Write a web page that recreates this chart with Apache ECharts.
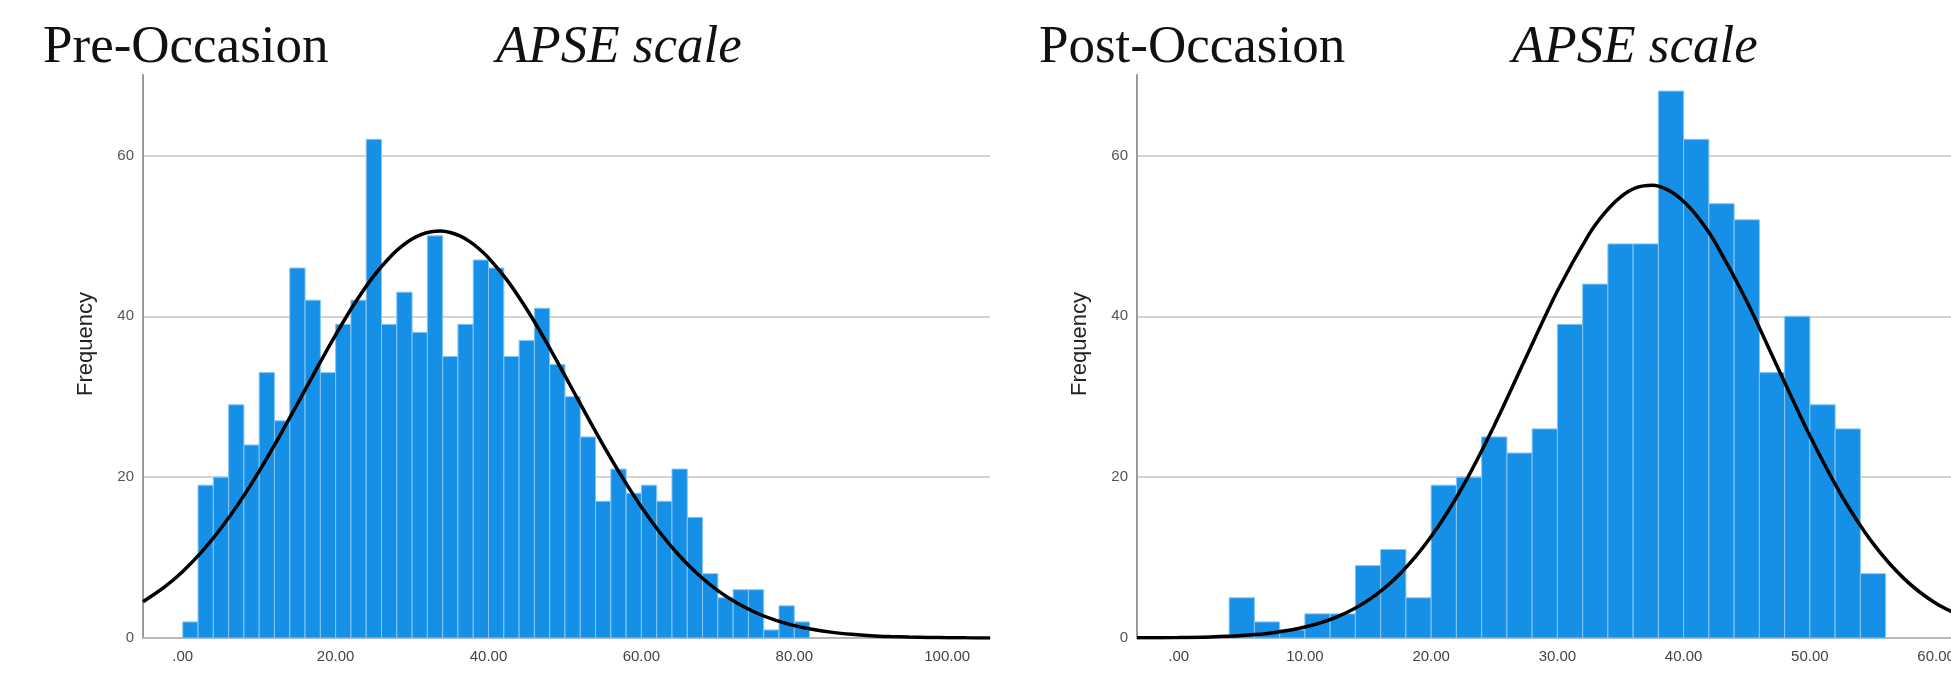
<!DOCTYPE html>
<html><head><meta charset="utf-8">
<script src="https://cdn.jsdelivr.net/npm/echarts@6/dist/echarts.min.js"></script>
<style>html,body{margin:0;padding:0;background:#fff;overflow:hidden;width:1951px;height:673px}#c{width:1980px;height:673px}</style>
</head><body><div id="c"></div>
<script>
// ---- data ----
const binWidth = 2;
const preBinStart = 0;
const preCounts = [2, 19, 20, 29, 24, 33, 27, 46, 42, 33,
                   39, 42, 62, 39, 43, 38, 50, 35, 39, 47,
                   46, 35, 37, 41, 34, 30, 25, 17, 21, 18,
                   19, 17, 21, 15, 8, 5, 6, 6, 1, 4, 2];
const postBinStart = 4;
const postCounts = [5, 2, 1, 3, 3, 9, 11, 5, 19, 20,
                    25, 23, 26, 39, 44, 49, 49, 68, 62, 54,
                    52, 33, 40, 29, 26, 8];
// fitted normal curves
const preCurveX = [-5.2, -2.5, 0, 2.5, 5, 7.5, 10, 12.5, 15, 17.5, 20, 22.5, 25, 27.5, 28.75, 30, 31.25, 32.5, 33.75, 35,
                   36.25, 37.5, 38.75, 40, 42.5, 45, 47.5, 50, 52.5, 55, 57.5, 60, 62.5, 65, 67.5, 70, 72.5, 75, 77.5, 80,
                   82.5, 85, 87.5, 90, 92.5, 95, 97.5, 100, 102.5, 105.6];
const preCurveY = [4.5, 6.25, 8.27, 10.73, 13.64, 16.99, 20.75, 24.83, 29.12, 33.47, 37.7, 41.62, 45.03, 47.74, 48.79, 49.61, 50.19, 50.52, 50.6, 50.42,
                   49.99, 49.31, 48.4, 47.27, 44.4, 40.87, 36.88, 32.61, 28.26, 23.99, 19.97, 16.29, 13.02, 10.2, 7.83, 5.89, 4.35, 3.14, 2.22, 1.54,
                   1.05, 0.7, 0.46, 0.29, 0.18, 0.11, 0.07, 0.04, 0.02, 0.01];
const postCurveX = [-3.3, 0, 2.5, 5, 7.5, 10, 12.5, 15, 17.5, 20, 22.5, 25, 27.5, 30, 32.5, 33.75, 35, 36.25, 37.5, 38.75,
                    40, 41.25, 42.5, 45, 47.5, 50, 52.5, 55, 57.5, 60, 62.5, 63];
const postCurveY = [0.02, 0.05, 0.13, 0.31, 0.66, 1.36, 2.6, 4.68, 7.93, 12.61, 18.83, 26.43, 34.84, 43.14, 50.18, 52.86, 54.83, 55.99, 56.29, 55.71,
                    54.28, 52.08, 49.18, 41.86, 33.47, 25.14, 17.74, 11.76, 7.32, 4.28, 2.35, 2.07];
const preXTicks = [0, 20, 40, 60, 80, 100];
const postXTicks = [0, 10, 20, 30, 40, 50, 60];
const yTicks = [0, 20, 40, 60];
const yMax = 70;
const yInterval = 20;
const titleLeft = ['Pre-Occasion', 'APSE scale'];
const titleRight = ['Post-Occasion', 'APSE scale'];
const yName = 'Frequency';

// ---- chart ----
const BAR = '#168fe6';
function histItem(params, api) {
  const x0 = api.value(0), x1 = api.value(1), v = api.value(2);
  const p0 = api.coord([x0, v]);
  const p1 = api.coord([x1, 0]);
  return {
    type: 'rect',
    shape: { x: p0[0], y: p0[1], width: p1[0] - p0[0], height: p1[1] - p0[1] },
    style: { fill: BAR, stroke: '#86c6f4', lineWidth: 1 }
  };
}
function bins(start, counts) {
  return counts.map((c, i) => [start + i * binWidth, start + (i + 1) * binWidth, c]);
}
function fmt(v) { return v === 0 ? '.00' : v.toFixed(2); }

const xAxisCommon = {
  type: 'value',
  axisLine: { show: true, onZero: false, lineStyle: { color: '#b8b8b8', width: 2 } },
  axisTick: { show: false },
  splitLine: { show: false },
  axisLabel: { color: '#444', fontSize: 15, fontFamily: 'Liberation Sans', margin: 11, formatter: fmt }
};
const yAxisCommon = {
  type: 'value', min: 0, max: yMax, interval: yInterval,
  axisLine: { show: true, onZero: false, lineStyle: { color: '#9a9a9a', width: 2 } },
  axisTick: { show: false },
  splitLine: { show: true, showMaxLine: false, showMinLine: false, lineStyle: { color: '#d4d4d4', width: 2 } },
  axisLabel: { color: '#555', fontSize: 15, fontFamily: 'Liberation Sans', margin: 9, customValues: yTicks }
};

const titleFont = '53px "Liberation Serif"';
const titleItalic = 'italic 53px "Liberation Serif"';
function txt(x, y, s, font) {
  return { type: 'text', x: x, y: y, style: { text: s, font: font, fill: '#111', verticalAlign: 'middle', align: 'left' } };
}

const option = {
  animation: false,
  backgroundColor: '#fff',
  grid: [
    { left: 143, width: 847, top: 75, bottom: 35 },
    { left: 1137, width: 837, top: 75, bottom: 35 }
  ],
  xAxis: [
    Object.assign({}, xAxisCommon, { gridIndex: 0, min: -5.2, max: 105.6,
      axisLabel: Object.assign({}, xAxisCommon.axisLabel, { customValues: preXTicks }) }),
    Object.assign({}, xAxisCommon, { gridIndex: 1, min: -3.3, max: 63,
      axisLabel: Object.assign({}, xAxisCommon.axisLabel, { customValues: postXTicks }) })
  ],
  yAxis: [
    Object.assign({}, yAxisCommon, { gridIndex: 0 }),
    Object.assign({}, yAxisCommon, { gridIndex: 1 })
  ],
  series: [
    { type: 'custom', xAxisIndex: 0, yAxisIndex: 0, renderItem: histItem, data: bins(preBinStart, preCounts), encode: { x: [0, 1], y: 2 }, z: 2 },
    { type: 'custom', xAxisIndex: 1, yAxisIndex: 1, renderItem: histItem, data: bins(postBinStart, postCounts), encode: { x: [0, 1], y: 2 }, z: 2 },
    { type: 'line', xAxisIndex: 0, yAxisIndex: 0, data: preCurveX.map((x, i) => [x, preCurveY[i]]), smooth: 0.3, symbol: 'none',
      lineStyle: { color: '#000', width: 3.5 }, z: 5 },
    { type: 'line', xAxisIndex: 1, yAxisIndex: 1, data: postCurveX.map((x, i) => [x, postCurveY[i]]), smooth: 0.3, symbol: 'none',
      lineStyle: { color: '#000', width: 3.5 }, z: 5 }
  ],
  graphic: [
    txt(43, 48, titleLeft[0], titleFont),
    txt(496, 48, titleLeft[1], titleItalic),
    txt(1039, 48, titleRight[0], titleFont),
    txt(1512, 48, titleRight[1], titleItalic),
    { type: 'text', x: 86, y: 344, rotation: Math.PI / 2,
      style: { text: yName, font: '22px "Liberation Sans"', fill: '#222', align: 'center', verticalAlign: 'middle' } },
    { type: 'text', x: 1080, y: 344, rotation: Math.PI / 2,
      style: { text: yName, font: '22px "Liberation Sans"', fill: '#222', align: 'center', verticalAlign: 'middle' } }
  ]
};
const chart = echarts.init(document.getElementById('c'), null, { renderer: 'canvas' });
chart.setOption(option);
</script>
</body></html>
